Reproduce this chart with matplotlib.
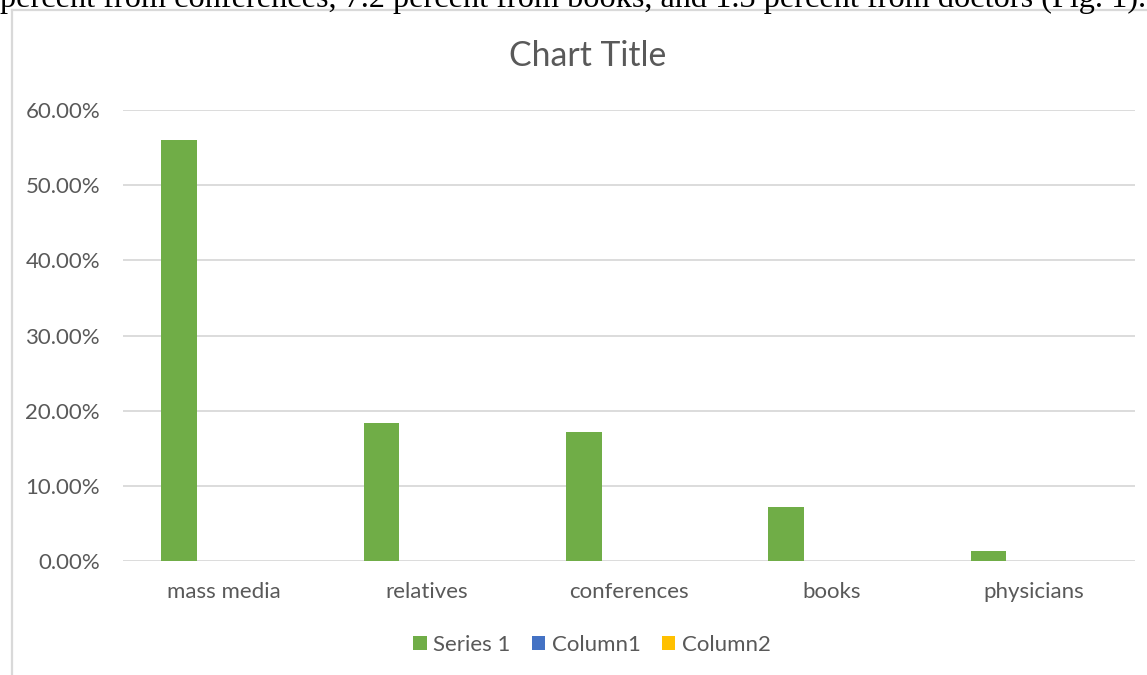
import matplotlib
matplotlib.use("Agg")
import matplotlib.pyplot as plt
from matplotlib.patches import Patch
from matplotlib.lines import Line2D
import numpy as np

# ---- data ----
categories = ["mass media", "relatives", "conferences", "books", "physicians"]
series1 = [0.56, 0.184, 0.171, 0.072, 0.013]
column1 = []   # empty series (legend only)
column2 = []   # empty series (legend only)
series_names = ["Series 1", "Column1", "Column2"]
yticks = [0.0, 0.1, 0.2, 0.3, 0.4, 0.5, 0.6]
title = "Chart Title"
caption = "percent from conferences, 7.2 percent from books, and 1.3 percent from doctors (Fig. 1)."

# ---- style ----
W, H = 1147, 675
TEXT = "#595959"
GRID = "#D9D9D9"
colors = ["#70AD47", "#4472C4", "#FFC000"]
plt.rcParams['font.family'] = ['Lato', 'DejaVu Sans']

fig = plt.figure(figsize=(W / 100, H / 100), dpi=100)
fig.patch.set_facecolor("white")

def px(x0, y0, x1, y1):
    return [x0 / W, 1 - y1 / H, (x1 - x0) / W, (y1 - y0) / H]

# chart frame lines
frame = fig.add_axes([0, 0, 1, 1], zorder=-1)
frame.set_xlim(0, W); frame.set_ylim(H, 0); frame.axis("off")
frame.add_line(Line2D([12, 12], [10, H], color=GRID, lw=1.6))
frame.add_line(Line2D([12, W], [10, 10], color=GRID, lw=1.6))

# clipped caption text at top (Times-like), partly cut off as in the reference
cap = fig.text(0, 1 - 7 / H, caption, family="Liberation Serif", fontsize=21,
               color="black", ha="left", va="baseline")
fig.canvas.draw()
bb = cap.get_window_extent()
cap.set_fontsize(21 * 1142 / bb.width)

ax = fig.add_axes(px(123, 110, 1135, 561))
x = np.arange(len(categories))
bw = 0.176
off = 0.2235
ax.bar(x - off, series1, width=bw, color=colors[0], zorder=3)
ax.bar(x[:len(column1)], column1, width=bw, color=colors[1], zorder=3)
ax.bar(x[:len(column2)] + off, column2, width=bw, color=colors[2], zorder=3)

ax.set_xlim(-0.5, len(categories) - 0.5)
ax.set_ylim(0, 0.6)
ax.set_yticks(yticks)
ax.set_yticklabels([f"{v*100:.2f}%" for v in yticks])
ax.set_xticks(x)
ax.set_xticklabels(categories)
ax.tick_params(axis="both", length=0, colors=TEXT, labelsize=16)
ax.tick_params(axis="y", pad=16.5)
ax.tick_params(axis="x", pad=15)
ax.yaxis.grid(True, color=GRID, lw=1.3, zorder=0)
for s in ax.spines.values():
    s.set_visible(False)
ax.set_facecolor("none")

fig.text(588 / W, 1 - 56 / H, title, fontsize=24.3, color=TEXT, ha="center", va="center")

handles = [Patch(facecolor=c, edgecolor="none") for c in colors]
leg = fig.legend(handles, series_names, loc="center", bbox_to_anchor=(592 / W, 1 - 645 / H),
                 ncol=3, frameon=False, fontsize=16, labelcolor=TEXT,
                 handlelength=0.6, handleheight=0.6, handletextpad=0.3, columnspacing=0.95)

fig.savefig("out.png", dpi=100, facecolor="white")
